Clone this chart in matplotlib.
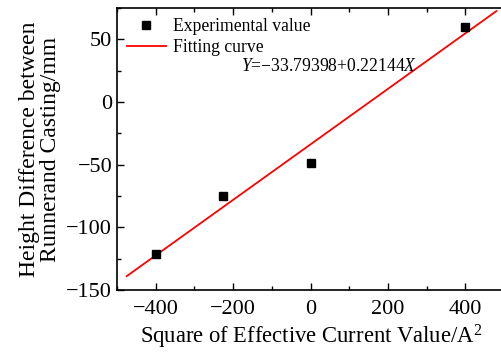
import matplotlib.pyplot as plt
import numpy as np

plt.rcParams['font.family'] = ['Liberation Serif', 'DejaVu Serif']
plt.rcParams['mathtext.fontset'] = 'custom'
plt.rcParams['mathtext.rm'] = 'Liberation Serif'
plt.rcParams['mathtext.it'] = 'Liberation Serif:italic'

# experimental points
current_sq = [-400, -225, 0, 400]
height_diff = [-121.5, -74.8, -48.3, 59.5]

# linear fit
intercept = -33.79398
slope = 0.22144
fit_x_range = [-475, 480]

fig = plt.figure(figsize=(5.02, 3.56), dpi=100)
ax = fig.add_axes([117 / 502, (356 - 290) / 356, (506 - 117) / 502, (290 - 8) / 356])

fx = np.array(fit_x_range)
ax.plot(fx, intercept + slope * fx, color='red', lw=1.3, label='Fitting curve', zorder=2)
ax.plot(current_sq, height_diff, 's', color='black', ms=6, label='Experimental value', zorder=3)

ax.set_xlim(-500, 505)
ax.set_ylim(-150, 75)
ax.set_xticks([-400, -200, 0, 200, 400])
ax.set_xticks(np.arange(-500, 501, 100), minor=True)
ax.set_yticks([-150, -100, -50, 0, 50])
ax.set_yticks(np.arange(-150, 76, 25), minor=True)
ax.tick_params(which='both', direction='in', top=True, right=False, labelsize=16, width=1)
ax.tick_params(which='major', length=5)
ax.tick_params(which='minor', length=3)
ax.tick_params(axis='x', pad=7)
for s in ax.spines.values():
    s.set_linewidth(1.2)

ax.set_xlabel('Square of Effective Current Value/A$^{2}$', fontsize=16.3, labelpad=3)
ax.set_ylabel('Height Difference between\nRunnerand Casting/mm', fontsize=17, labelpad=4,
              linespacing=1.0)

handles, labels = ax.get_legend_handles_labels()
ax.legend(handles[::-1], labels[::-1], loc='upper left', frameon=False, fontsize=12.7,
          handlelength=2.2, borderaxespad=0.15, labelspacing=0.25, handletextpad=0.4)

ax.text(-180, 28, r'$Y$=−33.79398+0.22144$X$', fontsize=12.7, ha='left', va='center')

fig.savefig('out.png', dpi=100)
